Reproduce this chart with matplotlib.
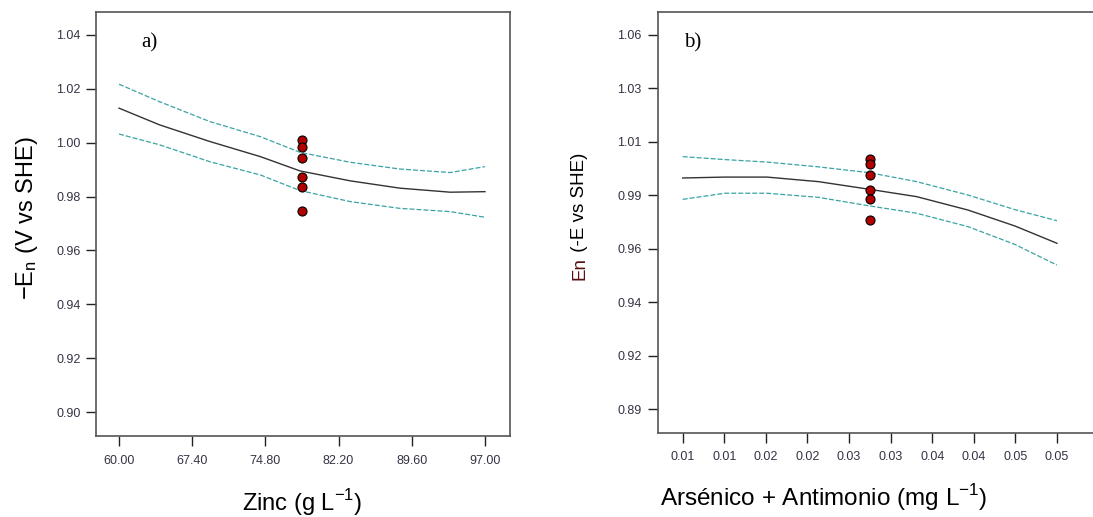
import matplotlib
matplotlib.use("Agg")
from matplotlib import pyplot as plt

plt.rcParams['font.family'] = ['Liberation Sans', 'DejaVu Sans']
plt.rcParams['mathtext.fontset'] = 'custom'
plt.rcParams['mathtext.rm'] = 'Liberation Sans'

# ---- panel a) zinc ----
zinc_x = [60.0, 64.1, 69.2, 74.3, 78.3, 83.4, 88.4, 93.5, 97.0]
zinc_fit = [1.0128, 1.0066, 1.0004, 0.9948, 0.9895, 0.9858, 0.9831, 0.9816, 0.9818]
zinc_upper = [1.0217, 1.0152, 1.0078, 1.0022, 0.9964, 0.9927, 0.9902, 0.9889, 0.9911]
zinc_lower = [1.0032, 0.9992, 0.9929, 0.9880, 0.9822, 0.9781, 0.9756, 0.9744, 0.9723]
zinc_pts_x = [78.5] * 6
zinc_pts_y = [1.0010, 0.9983, 0.9943, 0.9874, 0.9837, 0.9748]
zinc_xticks = [60.0, 67.4, 74.8, 82.2, 89.6, 97.0]
zinc_xticklabels = ['60.00', '67.40', '74.80', '82.20', '89.60', '97.00']
zinc_yticks = [0.90, 0.92, 0.94, 0.96, 0.98, 1.00, 1.02, 1.04]
zinc_yticklabels = ['0.90', '0.92', '0.94', '0.96', '0.98', '1.00', '1.02', '1.04']

# ---- panel b) arsenic + antimony ----
asb_x = [0.0100, 0.0145, 0.0190, 0.0245, 0.0300, 0.0350, 0.0405, 0.0455, 0.0500]
asb_fit = [0.9944, 0.9948, 0.9948, 0.9928, 0.9894, 0.9862, 0.9803, 0.9733, 0.9657]
asb_upper = [1.0038, 1.0025, 1.0014, 0.9993, 0.9967, 0.9928, 0.9869, 0.9805, 0.9756]
asb_lower = [0.9850, 0.9877, 0.9877, 0.9859, 0.9821, 0.9789, 0.9730, 0.9652, 0.9561]
asb_pts_x = [0.030] * 6
asb_pts_y = [1.0026, 1.0004, 0.9959, 0.9890, 0.9850, 0.9759]
asb_xticks = [0.01 + k * 0.04 / 9 for k in range(10)]
asb_xticklabels = ['0.01', '0.01', '0.02', '0.02', '0.03', '0.03', '0.04', '0.04', '0.05', '0.05']
asb_yticks = [0.8928, 0.9163, 0.9398, 0.9633, 0.9868, 1.0103, 1.0338, 1.0573]
asb_yticklabels = ['0.89', '0.92', '0.94', '0.96', '0.99', '1.01', '1.03', '1.06']

fig = plt.figure(figsize=(10.93, 5.17), dpi=100)
ax1 = fig.add_axes([0.0878, 0.1567, 0.3788, 0.8201])
ax2 = fig.add_axes([0.6020, 0.1631, 0.4044, 0.8137])

fit_color = '#333333'
band_color = '#3aa3a3'
tick_color = '#333344'


def draw_panel(ax, x, fit, up, lo, px, py):
    ax.plot(x, up, color=band_color, lw=0.9, dashes=(4, 1.6))
    ax.plot(x, lo, color=band_color, lw=0.9, dashes=(4, 1.6))
    ax.plot(x, fit, color=fit_color, lw=1.0)
    ax.plot(px, py, 'o', ms=6.5, mfc='#b00000', mec='black', mew=0.8, zorder=5)
    for s in ax.spines.values():
        s.set_color('#555555')
        s.set_linewidth(1.2)
    ax.tick_params(axis='both', colors='#222222', labelcolor=tick_color,
                   labelsize=9, length=7.5, width=1.0)


draw_panel(ax1, zinc_x, zinc_fit, zinc_upper, zinc_lower, zinc_pts_x, zinc_pts_y)
ax1.set_xlim(57.67, 99.53)
ax1.set_ylim(0.8911, 1.0485)
ax1.set_xticks(zinc_xticks)
ax1.set_xticklabels(zinc_xticklabels)
ax1.set_yticks(zinc_yticks)
ax1.set_yticklabels(zinc_yticklabels)
ax1.tick_params(axis='x', pad=6)
ax1.tick_params(axis='y', pad=3.6)
ax1.text(0.130, 0.927, 'a)', transform=ax1.transAxes, fontsize=15,
         family='Liberation Serif', ha='center', va='center')

draw_panel(ax2, asb_x, asb_fit, asb_upper, asb_lower, asb_pts_x, asb_pts_y)
ax2.set_xlim(0.00736, 0.0546)
ax2.set_ylim(0.8824, 1.0674)
ax2.set_xticks(asb_xticks)
ax2.set_xticklabels(asb_xticklabels)
ax2.set_yticks(asb_yticks)
ax2.set_yticklabels(asb_yticklabels)
ax2.tick_params(axis='x', pad=6)
ax2.tick_params(axis='y', pad=4.3)
ax2.text(0.079, 0.926, 'b)', transform=ax2.transAxes, fontsize=15,
         family='Liberation Serif', ha='center', va='center')

# axis labels
fig.text(27 / 1093, 1 - 218.5 / 517, r'$\mathregular{-E_n}$ (V vs SHE)', rotation=90,
         fontsize=17, ha='center', va='center')
fig.text(301.7 / 1093, 1 - 502.5 / 517, r'Zinc (g L$^{\mathregular{-1}}$)',
         fontsize=17, ha='center', va='center')
fig.text(580 / 1093, 1 - 280 / 517, 'En', rotation=90, fontsize=13.5,
         color='#5a1010', ha='center', va='bottom')
fig.text(580 / 1093, 1 - 257 / 517, ' (-E vs SHE)', rotation=90, fontsize=13.5,
         ha='center', va='bottom')
fig.text(823.3 / 1093, 1 - 497.5 / 517, r'Arsénico + Antimonio (mg L$^{\mathregular{-1}}$)',
         fontsize=17.5, ha='center', va='center')

fig.savefig('out.png', dpi=100)
